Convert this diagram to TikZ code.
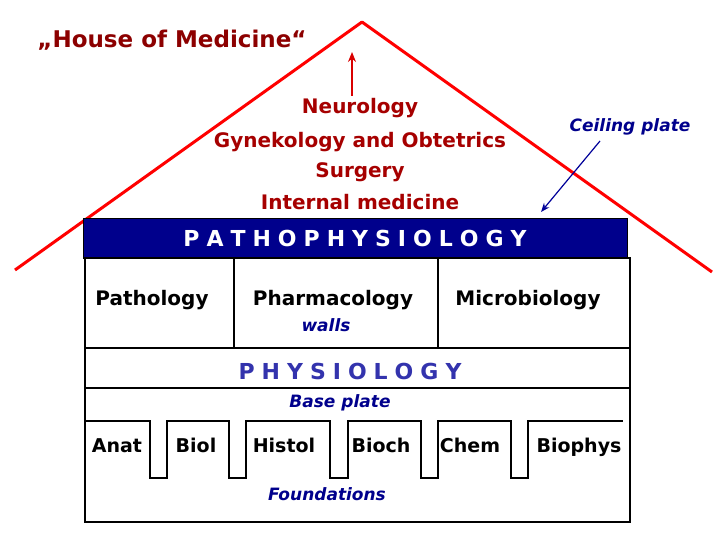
\documentclass[tikz,border=0pt]{standalone}
\usepackage{fontspec}
\usetikzlibrary{arrows.meta}
\setmainfont{DejaVu Sans}
\begin{document}
\begin{tikzpicture}[x=1pt,y=-1pt,
  redtxt/.style={font=\bfseries\fontsize{20}{24}\selectfont, text=red!65!black},
  blk/.style={font=\bfseries\fontsize{20}{24}\selectfont},
  fnd/.style={font=\bfseries\fontsize{19}{22}\selectfont, anchor=base},
  lbl/.style={font=\bfseries\itshape\fontsize{17}{20}\selectfont, text=blue!55!black},
  frame/.style={draw=black, line width=2.2pt}]
\useasboundingbox (0,0) rectangle (720,540);
% roof
\coordinate (apex) at (362,22);
\coordinate (rl) at (15,270);
\coordinate (rr) at (712,272);
\draw[color=red, line width=3pt, line join=round] (rl) -- (apex) -- (rr);
\node[font=\bfseries\fontsize{23}{26}\selectfont, text=red!55!black] (title) at (172,40) {„House of Medicine“};
\coordinate (ab) at (352,96);
\coordinate (at) at (352,52);
\draw[color=red!85!black, line width=1.8pt, -{Stealth[length=10pt,width=8pt]}] (ab) -- (at);
\node[redtxt] (n1) at (360,108) {Neurology};
\node[redtxt] (n2) at (360,142) {Gynekology and Obtetrics};
\node[redtxt] (n3) at (360,172) {Surgery};
\node[redtxt] (n4) at (360,202) {Internal medicine};
\node[lbl] (ceil) at (630,127) {Ceiling plate};
\coordinate (cs) at (600,141);
\coordinate (ct) at (541,212);
\draw[color=blue!60!black, line width=1.2pt, -{Stealth[length=9pt,width=7pt]}] (cs) -- (ct);
% pathophysiology
\node[fill=blue!55!black, draw=black, minimum width=544pt, minimum height=40pt, inner sep=0pt,
  text=white, font=\bfseries\fontsize{22}{26}\selectfont] (patho) at (355,238)
  {P\hspace{7pt}A\hspace{7pt}T\hspace{7pt}H\hspace{7pt}O\hspace{7pt}P\hspace{7pt}H\hspace{7pt}Y\hspace{7pt}S\hspace{7pt}I\hspace{7pt}O\hspace{7pt}L\hspace{7pt}O\hspace{7pt}G\hspace{7pt}Y};
% walls
\draw[frame] (85,258) rectangle (630,348);
\draw[frame] (234,258) -- (234,348);
\draw[frame] (438,258) -- (438,348);
\node[blk] (path) at (152,300) {Pathology};
\node[blk] (pharm) at (333,300) {Pharmacology};
\node[lbl] (walls) at (326,325) {walls};
\node[blk] (micro) at (528,300) {Microbiology};
\draw[frame] (85,348) rectangle (630,388);
\node[font=\bfseries\fontsize{22}{26}\selectfont, text=blue!60!black!80] (phys) at (350,371)
  {P\hspace{7pt}H\hspace{7pt}Y\hspace{7pt}S\hspace{7pt}I\hspace{7pt}O\hspace{7pt}L\hspace{7pt}O\hspace{7pt}G\hspace{7pt}Y};
\draw[frame] (85,388) rectangle (630,522);
\node[lbl] (base) at (340,403) {Base plate};
\draw[line width=2pt] (85,421) -- (150,421) -- (150,478) -- (167,478) -- (167,421)
  -- (229,421) -- (229,478) -- (246,478) -- (246,421)
  -- (330,421) -- (330,478) -- (348,478) -- (348,421)
  -- (421,421) -- (421,478) -- (438,478) -- (438,421)
  -- (511,421) -- (511,478) -- (528,478) -- (528,421) -- (623,421);
\node[fnd] (anat) at (117,452) {Anat};
\node[fnd] (biol) at (196,452) {Biol};
\node[fnd] (hist) at (284,452) {Histol};
\node[fnd] (bioch) at (381,452) {Bioch};
\node[fnd] (chem) at (470,452) {Chem};
\node[fnd] (bioph) at (579,452) {Biophys};
\node[lbl] (found) at (327,494) {Foundations};
\end{tikzpicture}
\end{document}
